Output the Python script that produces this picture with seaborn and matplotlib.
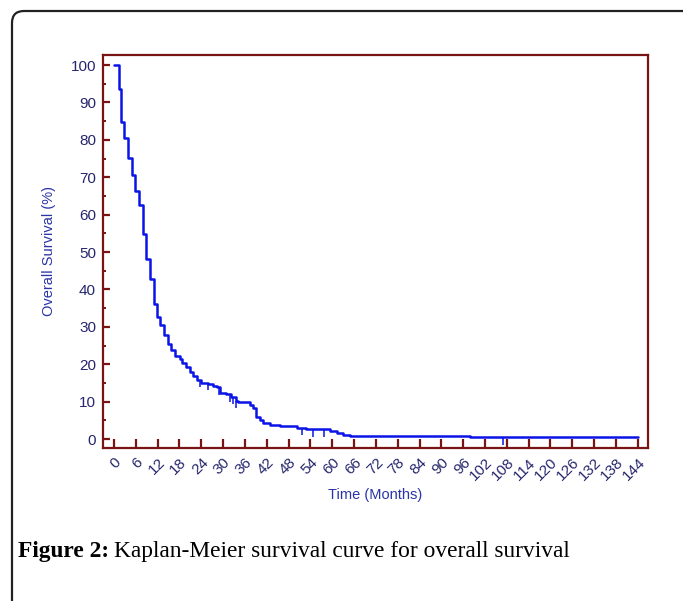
import numpy as np
import pandas as pd
import matplotlib
matplotlib.use("Agg")
import matplotlib.pyplot as plt
import seaborn as sns
from matplotlib.patches import FancyBboxPatch
from matplotlib.transforms import IdentityTransform, ScaledTranslation
from matplotlib.ticker import MultipleLocator

# ---- data ----
step_times = [0, 1.3, 2.0, 2.9, 3.9, 4.9, 5.9, 6.9, 8.0, 8.9, 10.0, 10.9, 11.8, 12.8,
              13.8, 14.9, 15.8, 16.7, 18.1, 18.8, 19.9, 20.8, 21.7, 22.8, 24.0, 25.9,
              27.1, 28.2, 29.1, 30.9, 32.3, 33.5, 34.1, 37.3, 38.2, 39.0, 40.1, 41.0,
              42.8, 45.6, 50.2, 52.9, 59.3, 61.2, 63.0, 64.8, 97.9, 144]
step_surv = [100, 93.7, 84.8, 80.4, 75.2, 70.7, 66.4, 62.6, 54.8, 48.1, 42.7, 36.0,
             32.6, 30.4, 27.9, 25.3, 23.7, 22.3, 21.5, 20.2, 19.3, 18.0, 16.9, 15.9,
             15.1, 14.6, 14.2, 13.8, 12.3, 12.0, 11.3, 10.2, 9.8, 9.0, 8.3, 6.0, 5.0,
             4.4, 3.8, 3.4, 3.0, 2.6, 2.1, 1.7, 1.2, 0.9, 0.5, 0.5]
censor_times = [23.6, 25.8, 29.0, 31.8, 32.7, 33.5, 51.8, 54.7, 57.7, 107]
x_ticks = list(range(0, 145, 6))
y_ticks = list(range(0, 101, 10))

df = pd.DataFrame({"time": step_times, "surv": step_surv})

sns.set_style("white")
plt.rcParams["font.family"] = ["Liberation Sans", "DejaVu Sans"]

W, H = 683, 601
fig = plt.figure(figsize=(W / 100, H / 100), dpi=100)
ax = fig.add_axes([103 / W, 1 - 448 / H, 545 / W, 393 / H])

sns.lineplot(data=df, x="time", y="surv", drawstyle="steps-post", estimator=None,
             color="#0a14e6", linewidth=1.8, ax=ax)

# censor marks hanging below the curve
st = np.array(step_times)
ss = np.array(step_surv)
cs = ss[np.searchsorted(st, censor_times, side="right") - 1]
ax.vlines(censor_times, cs - 2.0, cs, color="#0a14e6", linewidth=1.1)

ax.set_xlim(-3.0, 146.8)
ax.set_ylim(-2.4, 102.7)

spine_c = "#7a1414"
for s in ax.spines.values():
    s.set_color(spine_c)
    s.set_linewidth(1.6)
    s.set_visible(True)

ax.set_xticks(x_ticks)
ax.set_yticks(y_ticks)
ax.yaxis.set_minor_locator(MultipleLocator(5))
lab_c = "#26266e"
ax.tick_params(axis="y", which="major", direction="in", length=5, width=1.6,
               color=spine_c, labelsize=11, labelcolor=lab_c, pad=5, left=True)
ax.tick_params(axis="y", which="minor", direction="in", length=2.5, width=1.4,
               color=spine_c, left=True)
ax.tick_params(axis="x", which="major", direction="in", length=6.5, width=1.6,
               color=spine_c, labelsize=11, labelcolor=lab_c, pad=9, bottom=True)
ax.set_xticklabels([str(v) for v in x_ticks], rotation=45, ha="right",
                   va="center", rotation_mode="anchor")
shift = ScaledTranslation(5 / 100, 0, fig.dpi_scale_trans)
for t in ax.get_xticklabels():
    t.set_transform(t.get_transform() + shift)

ax.set_xlabel("Time (Months)", fontsize=10.5, color="#2a34a8", labelpad=3.5)
ax.set_ylabel("Overall Survival (%)", fontsize=10.5, color="#2a34a8", labelpad=10.5)
ax.grid(False)

# outer rounded frame of the figure panel
frame = FancyBboxPatch((12, -30), 720, H - 11 + 30,
                       boxstyle="round,pad=0,rounding_size=12",
                       transform=IdentityTransform(), fill=False,
                       edgecolor="#222222", linewidth=1.6)
fig.patches.append(frame)

# caption
cap_y = 1 - 557 / H
t1 = fig.text(18 / W, cap_y, "Figure 2:", fontsize=16.8, fontweight="bold",
              family=["Liberation Serif", "DejaVu Serif"], color="black",
              va="baseline")
fig.canvas.draw()
bb = t1.get_window_extent()
fig.text((bb.x1 + 5) / W, cap_y, "Kaplan-Meier survival curve for overall survival",
         fontsize=16.8, family=["Liberation Serif", "DejaVu Serif"], color="black",
         va="baseline")

fig.savefig("out.png", dpi=100)
